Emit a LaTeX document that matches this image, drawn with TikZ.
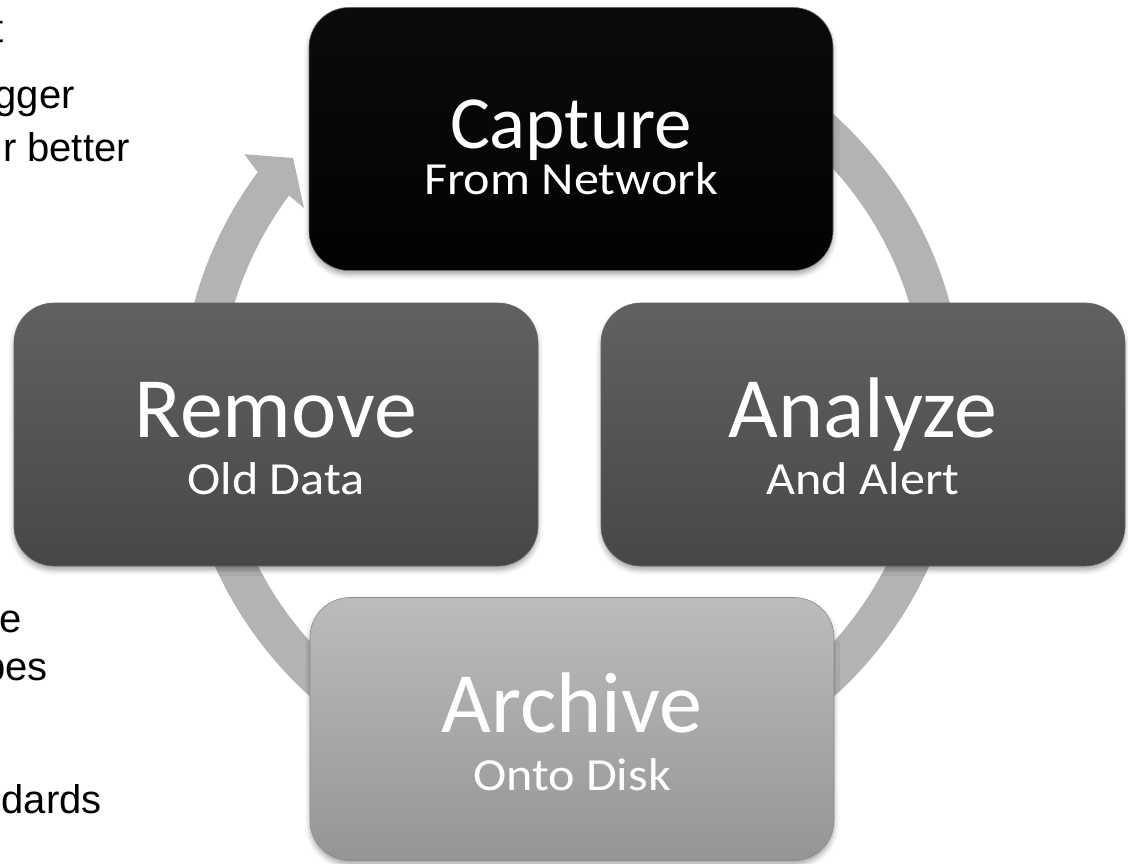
\documentclass[tikz,border=0pt]{standalone}
\usepackage{fontspec}
\setmainfont{Carlito}
\newfontfamily\subfont[FakeStretch=1.09]{Carlito}
\newfontfamily\slidefont{Liberation Sans}
\usetikzlibrary{shadows.blur}

\definecolor{ringgray}{HTML}{B3B3B3}
\definecolor{blacktop}{HTML}{0B0B0B}
\definecolor{blackbot}{HTML}{020202}
\definecolor{darktop}{HTML}{616161}
\definecolor{darkbot}{HTML}{474747}
\definecolor{lighttop}{HTML}{BCBCBC}
\definecolor{lightbot}{HTML}{959595}

\begin{document}
\begin{tikzpicture}[x=1pt,y=-1pt,
  stage/.style={rectangle, rounded corners=40pt, minimum width=524pt,
    minimum height=263pt, inner sep=0pt, draw=black!60, line width=0.6pt,
    blur shadow={shadow xshift=0pt, shadow yshift=-4pt,
      shadow blur radius=5pt, shadow opacity=35}},
  blackstage/.style={stage, top color=blacktop, bottom color=blackbot},
  darkstage/.style={stage, top color=darktop, bottom color=darkbot},
  lightstage/.style={stage, top color=lighttop, bottom color=lightbot, draw=black!45},
  headline/.style={text=white, anchor=base, inner sep=0pt,
    font=\fontsize{86}{86}\selectfont},
  smallheadline/.style={headline, font=\fontsize{75}{75}\selectfont},
  subline/.style={text=white, anchor=base, inner sep=0pt,
    font=\subfont\fontsize{46}{46}\selectfont},
  bullet/.style={anchor=base east, inner sep=0pt,
    font=\slidefont\fontsize{40}{40}\selectfont}]

\useasboundingbox (0,0) rectangle (1128,863);
\clip (0,0) rectangle (1128,863);

% fragments of slide text at the left edge
\node[bullet] (t1) at (4,42)   {t};
\node[bullet] (t2) at (75,108) {gger};
\node[bullet] (t3) at (130,161) {r better};
\node[bullet] (t4) at (22,632) {e};
\node[bullet] (t5) at (48,680) {pes};
\node[bullet] (t6) at (102,813) {dards};

% circular arrow running clockwise behind the four stages
\coordinate (hub) at (572,405.6);
\begin{scope}[shift={(hub)}]
  \fill[ringgray]
    (-90:391.5) arc[start angle=-90, end angle=216.6, radius=391.5]
    -- (217.5:413) -- (221.6:373) -- (216.4:333) -- (216.6:352.5)
    arc[start angle=216.6, end angle=-90, radius=352.5] -- cycle;
\end{scope}

% the four stages
\node[blackstage] (cap) at (571,139) {};
\node[darkstage]  (ana) at (863,434.5) {};
\node[lightstage] (arc) at (572,729) {};
\node[darkstage]  (rem) at (276,434.5) {};

\node[smallheadline] (capT) at ([yshift=-9pt]cap.center) {Capture};
\node[subline]  (capS) at ([yshift=-55pt]cap.center) {From Network};
\node[headline] (anaT) at ([yshift=-3pt]ana.center) {Analyze};
\node[subline]  (anaS) at ([yshift=-60pt]ana.center) {And Alert};
\node[headline] (arcT) at ([yshift=-3pt]arc.center) {Archive};
\node[subline]  (arcS) at ([yshift=-61pt]arc.center) {Onto Disk};
\node[headline] (remT) at ([yshift=-3pt]rem.center) {Remove};
\node[subline]  (remS) at ([yshift=-60pt]rem.center) {Old Data};
\end{tikzpicture}
\end{document}
